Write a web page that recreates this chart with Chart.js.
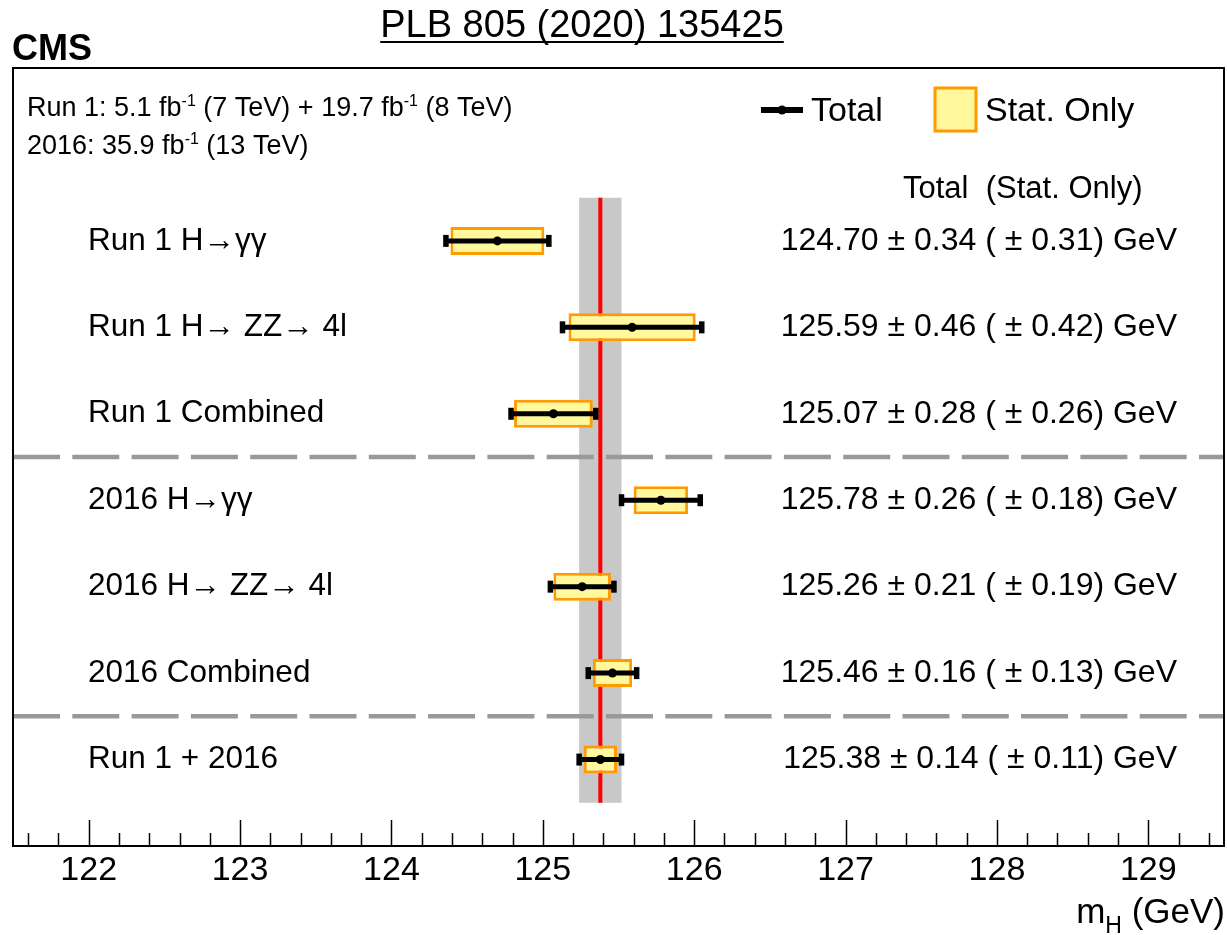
<!DOCTYPE html>
<html>
<head>
<meta charset="utf-8">
<script src="https://cdn.jsdelivr.net/npm/chart.js@4.4.0/dist/chart.umd.min.js"></script>
<style>
  html, body { margin: 0; padding: 0; background: #fff; }
  #wrap { width: 1227px; height: 935px; position: relative; }
</style>
</head>
<body>
<div id="wrap"><canvas id="massChart"></canvas></div>
<script>
// measurements, top to bottom
const channels = ['Run 1 H\u2192\u03b3\u03b3', 'Run 1 H\u2192 ZZ\u2192 4l', 'Run 1 Combined',
  '2016 H\u2192\u03b3\u03b3', '2016 H\u2192 ZZ\u2192 4l', '2016 Combined', 'Run 1 + 2016']
const mass = [124.70, 125.59, 125.07, 125.78, 125.26, 125.46, 125.38]
const totalErr = [0.34, 0.46, 0.28, 0.26, 0.21, 0.16, 0.14]
const statErr = [0.31, 0.42, 0.26, 0.18, 0.19, 0.13, 0.11]
const groupEnds = [2, 5]
const xTickLabels = [122, 123, 124, 125, 126, 127, 128, 129]

const FONT = "'Liberation Sans', Arial, Helvetica, sans-serif"
const yellow = '#fff89c'
const orange = '#ff9a00'

// row i sits at y = i + 2 on a reversed 0..9 scale
const rows = channels.map((c, i) => i + 2)
const best = mass.length - 1
const xMin = 121.5, xMax = 129.5

const valueLabels = mass.map((m, i) =>
  m.toFixed(2) + ' \u00b1 ' + totalErr[i].toFixed(2) + ' ( \u00b1 ' + statErr[i].toFixed(2) + ') GeV')

const dots = mass.map((m, i) => ({ x: m, y: rows[i] }))
const caps = []
mass.forEach((m, i) => {
  caps.push({ x: m - totalErr[i], y: rows[i] })
  caps.push({ x: m + totalErr[i], y: rows[i] })
})
const totalBars = mass.map((m, i) => ({ x: [m - totalErr[i], m + totalErr[i]], y: rows[i] }))
const statBars = mass.map((m, i) => ({ x: [m - statErr[i], m + statErr[i]], y: rows[i] }))

const bandTop = rows[0] - 0.5, bandBottom = rows[best] + 0.5
const bandLo = mass[best] - totalErr[best], bandHi = mass[best] + totalErr[best]

const sepSets = groupEnds.map(g => ({
  type: 'line',
  data: [{ x: xMin, y: rows[g] + 0.5 }, { x: xMax, y: rows[g] + 0.5 }],
  borderColor: '#999999',
  borderWidth: 4.5,
  borderDash: [47, 12.3],
  pointRadius: 0,
  fill: false
}))

Chart.defaults.color = '#000'
Chart.defaults.font.family = FONT

// mirrored row axes must not eat into the plot area
function noSpace(s) {
  s.width = 0
  s.paddingTop = 0
  s.paddingBottom = 0
}

function drawRich(ctx, parts, x, y) {
  // parts: [text, size, dy]
  let cx = x
  parts.forEach(p => {
    ctx.font = p[1] + 'px ' + FONT
    ctx.fillText(p[0], cx, y + (p[2] || 0))
    cx += ctx.measureText(p[0]).width
  })
  return cx - x
}

const decorations = {
  id: 'decorations',
  afterDraw(chart) {
    const ctx = chart.ctx
    const a = chart.chartArea
    const xs = chart.scales.x
    ctx.save()

    // inward ticks on the x axis
    ctx.strokeStyle = '#000'
    ctx.lineWidth = 1.5
    xs.ticks.forEach(t => {
      const v = t.value
      const major = Math.abs(v - Math.round(v)) < 1e-6
      const px = Math.round(xs.getPixelForValue(v)) + 0.5
      ctx.beginPath()
      ctx.moveTo(px, a.bottom)
      ctx.lineTo(px, a.bottom - (major ? 26 : 13))
      ctx.stroke()
    })

    // frame
    ctx.lineWidth = 2
    ctx.strokeRect(a.left, a.top, a.right - a.left, a.bottom - a.top)

    ctx.fillStyle = '#000'
    ctx.textBaseline = 'alphabetic'

    // header
    ctx.font = 'bold 36px ' + FONT
    ctx.textAlign = 'left'
    ctx.fillText('CMS', 12, 60)
    ctx.font = '38px ' + FONT
    ctx.textAlign = 'center'
    const ref = 'PLB 805 (2020) 135425'
    ctx.fillText(ref, 582, 37)
    const w = ctx.measureText(ref).width
    ctx.fillRect(582 - w / 2, 41, w, 2)

    // luminosity
    ctx.textAlign = 'left'
    drawRich(ctx, [['Run 1: 5.1 fb', 27], ['-1', 16, -10], [' (7 TeV) + 19.7 fb', 27], ['-1', 16, -10], [' (8 TeV)', 27]], 27, 116)
    drawRich(ctx, [['2016: 35.9 fb', 27], ['-1', 16, -10], [' (13 TeV)', 27]], 27, 154)

    // legend
    ctx.fillRect(761, 107, 42, 6)
    ctx.beginPath()
    ctx.arc(782, 110, 4.5, 0, Math.PI * 2)
    ctx.fill()
    ctx.font = '34px ' + FONT
    ctx.textBaseline = 'middle'
    ctx.fillText('Total', 811, 112)
    ctx.fillStyle = yellow
    ctx.fillRect(935, 88, 41, 43)
    ctx.strokeStyle = orange
    ctx.lineWidth = 3
    ctx.strokeRect(935, 88, 41, 43)
    ctx.fillStyle = '#000'
    ctx.fillText('Stat. Only', 985, 112)
    ctx.font = '31px ' + FONT
    ctx.fillText('Total  (Stat. Only)', 903, 189)

    // axis title
    ctx.textBaseline = 'alphabetic'
    ctx.font = '35px ' + FONT
    const wm = ctx.measureText('m').width
    const wg = ctx.measureText(' (GeV)').width
    ctx.font = '23px ' + FONT
    const wh = ctx.measureText('H').width
    const x0 = 1225 - wm - wh - wg
    drawRich(ctx, [['m', 35], ['H', 23, 10], [' (GeV)', 35]], x0, 923)

    ctx.restore()
  }
}

new Chart(document.getElementById('massChart'), {
  type: 'bar',
  data: {
    datasets: [
      {
        type: 'line',
        data: dots,
        showLine: false,
        pointRadius: 4.5,
        pointBackgroundColor: '#000',
        pointBorderWidth: 0
      },
      {
        type: 'line',
        data: caps,
        showLine: false,
        pointStyle: 'line',
        pointRotation: 90,
        pointRadius: 6,
        pointBorderWidth: 5.5,
        pointBorderColor: '#000'
      },
      {
        data: totalBars,
        backgroundColor: '#000',
        borderWidth: 0,
        grouped: false,
        maxBarThickness: 5
      },
      {
        data: statBars,
        backgroundColor: yellow,
        borderColor: orange,
        borderWidth: 3,
        borderSkipped: false,
        grouped: false,
        maxBarThickness: 28
      },
      ...sepSets,
      {
        type: 'line',
        data: [{ x: mass[best], y: bandTop }, { x: mass[best], y: bandBottom }],
        borderColor: '#ff0000',
        borderWidth: 4,
        pointRadius: 0,
        fill: false
      },
      {
        type: 'line',
        data: [{ x: bandLo, y: bandTop }, { x: bandLo, y: bandBottom },
               { x: bandHi, y: bandBottom }, { x: bandHi, y: bandTop }],
        backgroundColor: '#c8c8c8',
        borderWidth: 0,
        pointRadius: 0,
        fill: 'shape'
      }
    ]
  },
  options: {
    indexAxis: 'y',
    responsive: true,
    maintainAspectRatio: false,
    animation: false,
    events: [],
    layout: { autoPadding: false, padding: { left: 13, right: 3, top: 68, bottom: 44 } },
    plugins: { legend: { display: false }, tooltip: { enabled: false } },
    scales: {
      x: {
        type: 'linear',
        min: xMin,
        max: xMax,
        grid: { display: false, drawTicks: false },
        border: { display: false },
        afterBuildTicks: s => {
          const ticks = []
          for (let k = Math.ceil(xMin * 5 + 1e-6); k < xMax * 5 - 1e-6; k++) ticks.push({ value: k / 5 })
          s.ticks = ticks
        },
        afterFit: s => { s.height = 45; s.paddingLeft = 0; s.paddingRight = 0 },
        ticks: {
          autoSkip: false,
          maxRotation: 0,
          padding: 4,
          font: { size: 34 },
          callback: v => {
            const r = Math.round(v)
            return Math.abs(v - r) < 1e-6 && xTickLabels.includes(r) ? String(r) : ''
          }
        }
      },
      y: {
        type: 'linear',
        position: 'left',
        reverse: true,
        offset: false,
        min: 0,
        max: 9,
        grid: { display: false, drawTicks: false },
        border: { display: false },
        afterBuildTicks: s => { s.ticks = rows.map(v => ({ value: v })) },
        afterFit: noSpace,
        ticks: {
          mirror: true,
          padding: 75,
          font: { size: 31.5 },
          callback: v => channels[rows.indexOf(v)]
        }
      },
      y2: {
        type: 'linear',
        position: 'right',
        reverse: true,
        offset: false,
        min: 0,
        max: 9,
        grid: { display: false, drawTicks: false },
        border: { display: false },
        afterBuildTicks: s => { s.ticks = rows.map(v => ({ value: v })) },
        afterFit: noSpace,
        ticks: {
          mirror: true,
          padding: -47,
          font: { size: 32 },
          callback: v => valueLabels[rows.indexOf(v)]
        }
      }
    }
  },
  plugins: [decorations]
})
</script>
</body>
</html>
